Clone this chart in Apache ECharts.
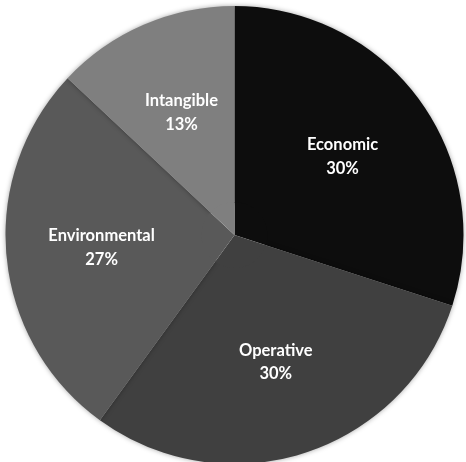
<!DOCTYPE html>
<html>
<head>
<meta charset="utf-8">
<script src="https://cdn.jsdelivr.net/npm/echarts@6/dist/echarts.min.js"></script>
<style>html,body{margin:0;padding:0;background:#fff;}#c{width:466px;height:462px;}</style>
</head>
<body>
<div id="c"></div>
<script>
var categories = ['Economic', 'Operative', 'Environmental', 'Intangible'];
var values = [30, 30, 27, 13];
var colors = ['#0d0d0d', '#404040', '#595959', '#7f7f7f'];

var data = categories.map(function (c, i) {
  return { name: c, value: values[i], itemStyle: { color: colors[i] } };
});
var chart = echarts.init(document.getElementById('c'), null, { renderer: 'canvas' });
chart.setOption({
  animation: false,
  backgroundColor: '#fff',
  series: [
    {
      type: 'pie',
      center: [234.5, 235],
      radius: [32, 229],
      startAngle: 90,
      clockwise: true,
      data: data,
      itemStyle: { borderWidth: 0, shadowBlur: 5, shadowColor: 'rgba(0,0,0,0.35)' },
      label: {
        show: true,
        position: 'inside',
        formatter: '{b}\n{d}%',
        color: '#fff',
        fontFamily: 'Lato',
        fontWeight: 'bold',
        fontSize: 16.5,
        lineHeight: 23.5
      },
      labelLine: { show: false },
      emphasis: { disabled: true }
    },
    {
      type: 'pie',
      center: [234.5, 235],
      radius: [0, 33],
      startAngle: 90,
      clockwise: true,
      data: data,
      z: 3,
      itemStyle: { borderWidth: 0 },
      label: { show: false },
      labelLine: { show: false },
      emphasis: { disabled: true },
      silent: true
    }
  ]
});
</script>
</body>
</html>
